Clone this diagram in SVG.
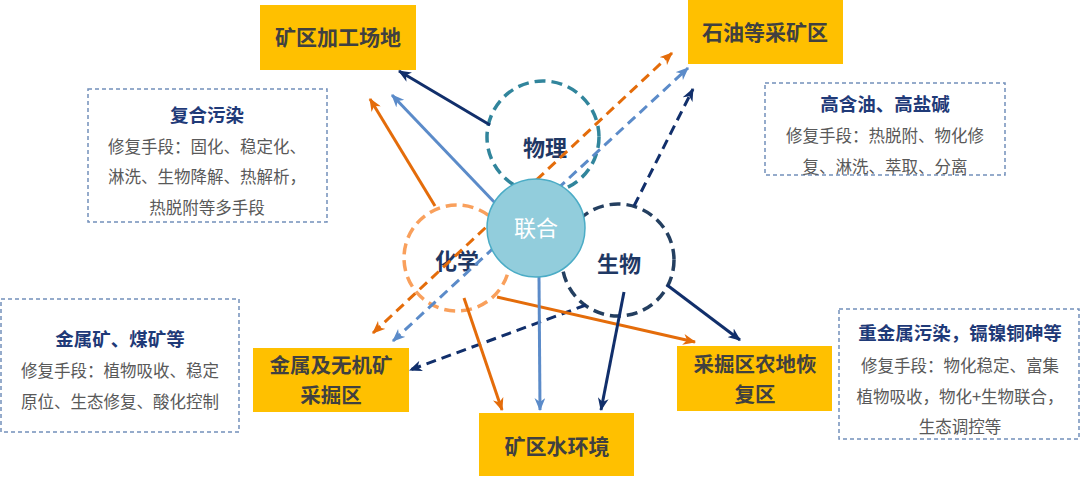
<svg xmlns="http://www.w3.org/2000/svg" width="1080" height="478" viewBox="0 0 1080 478">
<style>
.box{fill:#FFC000;}
.btxt{font-family:"Noto Sans CJK SC","Noto Sans",sans-serif;font-weight:700;font-size:21px;fill:#404040;text-anchor:middle;}
.b2{font-size:20.5px;}
.note{fill:#fff;stroke:#7390BA;stroke-width:1.5;stroke-dasharray:4 3;}
.ntitle{font-family:"Noto Sans CJK SC","Noto Sans",sans-serif;font-weight:700;font-size:18.5px;fill:#1F3A78;text-anchor:middle;}
.nbody{font-family:"Noto Sans CJK SC","Noto Sans",sans-serif;font-size:16.5px;fill:#595959;text-anchor:middle;}
.ctxt{font-family:"Noto Sans CJK SC","Noto Sans",sans-serif;font-weight:700;font-size:22px;fill:#1F3864;text-anchor:middle;}
.a{fill:none;stroke-width:3;}
.d{stroke-dasharray:10 6;}
.nv{stroke:#112F6B;}
.lb{stroke:#5B8BC9;}
.or{stroke:#E46C0A;}
</style>
<defs>
<marker id="mnv" viewBox="0 0 12 10" refX="11" refY="5" markerWidth="13" markerHeight="11" markerUnits="userSpaceOnUse" orient="auto-start-reverse"><path d="M0,0 L12,5 L0,10 L3.5,5 z" fill="#112F6B"/></marker>
<marker id="mlb" viewBox="0 0 12 10" refX="11" refY="5" markerWidth="13" markerHeight="11" markerUnits="userSpaceOnUse" orient="auto-start-reverse"><path d="M0,0 L12,5 L0,10 L3.5,5 z" fill="#5B8BC9"/></marker>
<marker id="mor" viewBox="0 0 12 10" refX="11" refY="5" markerWidth="13" markerHeight="11" markerUnits="userSpaceOnUse" orient="auto-start-reverse"><path d="M0,0 L12,5 L0,10 L3.5,5 z" fill="#E46C0A"/></marker>
</defs>
<rect width="1080" height="478" fill="#fff"/>

<g id="note-composite">
<rect class="note" x="88" y="89" width="239" height="133"/>
<text class="ntitle" x="207" y="122">复合污染</text>
<text class="nbody" x="207" y="153">修复手段：固化、稳定化、</text>
<text class="nbody" x="207" y="183">淋洗、生物降解、热解析，</text>
<text class="nbody" x="207" y="214">热脱附等多手段</text>
</g>
<g id="note-oil">
<rect class="note" x="765" y="83" width="240" height="92"/>
<text class="ntitle" x="885" y="111">高含油、高盐碱</text>
<text class="nbody" x="885" y="142">修复手段：热脱附、物化修</text>
<text class="nbody" x="885" y="173">复、淋洗、萃取、分离</text>
</g>
<g id="note-metal">
<rect class="note" x="1" y="299" width="238" height="133"/>
<text class="ntitle" x="120" y="346">金属矿、煤矿等</text>
<text class="nbody" x="120" y="377">修复手段：植物吸收、稳定</text>
<text class="nbody" x="120" y="408">原位、生态修复、酸化控制</text>
</g>
<g id="note-heavy">
<rect class="note" x="839" y="309" width="240" height="130"/>
<text class="ntitle" x="960" y="340">重金属污染，镉镍铜砷等</text>
<text class="nbody" x="960" y="372">修复手段：物化稳定、富集</text>
<text class="nbody" x="960" y="403">植物吸收，物化+生物联合，</text>
<text class="nbody" x="960" y="433">生态调控等</text>
</g>

<g id="box-processing"><rect class="box" x="260" y="5" width="156" height="65"/><text class="btxt" x="338" y="45">矿区加工场地</text></g>
<g id="box-oil"><rect class="box" x="688" y="0" width="155" height="64"/><text class="btxt" x="765" y="40">石油等采矿区</text></g>
<g id="box-metal"><rect class="box" x="253" y="348" width="156" height="64"/><text class="btxt b2" x="331" y="373">金属及无机矿</text><text class="btxt b2" x="331" y="403">采掘区</text></g>
<g id="box-farm"><rect class="box" x="677" y="346" width="155" height="65"/><text class="btxt b2" x="755" y="372">采掘区农地恢</text><text class="btxt b2" x="755" y="402">复区</text></g>
<g id="box-water"><rect class="box" x="479" y="413" width="155" height="63"/><text class="btxt" x="557" y="454">矿区水环境</text></g>

<g id="circle-physics"><circle cx="543" cy="137" r="56" fill="none" stroke="#31859C" stroke-width="3.5" stroke-dasharray="11 6"/><text class="ctxt" x="545" y="156">物理</text></g>
<g id="circle-chem"><circle cx="457" cy="258" r="53" fill="none" stroke="#F9A05C" stroke-width="3.5" stroke-dasharray="11 6"/><text class="ctxt" x="457" y="269">化学</text></g>
<g id="circle-bio"><circle cx="618" cy="260" r="56" fill="none" stroke="#243F60" stroke-width="3.5" stroke-dasharray="11 6"/><text class="ctxt" x="619" y="272">生物</text></g>

<g id="connectors">
<line class="a nv" x1="490" y1="125" x2="399" y2="71" marker-end="url(#mnv)"/>
<line class="a lb" x1="497" y1="205" x2="392" y2="95" marker-end="url(#mlb)"/>
<line class="a or" x1="435" y1="206" x2="370" y2="99" marker-end="url(#mor)"/>
<line class="a or d" x1="373" y1="333" x2="672" y2="53" marker-start="url(#mor)" marker-end="url(#mor)"/>
<line class="a lb d" x1="393" y1="341" x2="688" y2="68" marker-start="url(#mlb)" marker-end="url(#mlb)"/>
<line class="a nv d" x1="634" y1="206" x2="693" y2="89" marker-end="url(#mnv)"/>
<line class="a nv d" x1="586" y1="305" x2="410" y2="370" marker-end="url(#mnv)"/>
<line class="a nv" x1="667" y1="285" x2="740" y2="340" marker-end="url(#mnv)"/>
<line class="a or" x1="497" y1="297" x2="695" y2="342" marker-end="url(#mor)"/>
<line class="a or" x1="464" y1="298" x2="502" y2="410" marker-end="url(#mor)"/>
<line class="a lb" x1="539" y1="277" x2="540" y2="410" marker-end="url(#mlb)"/>
<line class="a nv" x1="624" y1="292" x2="601" y2="410" marker-end="url(#mnv)"/>
</g>

<g id="circle-joint"><circle cx="536" cy="228" r="49" fill="#92CDDC" stroke="#4BACC6" stroke-width="1.5"/><text x="536" y="236" font-family="Noto Sans CJK SC, Noto Sans, sans-serif" font-size="22" fill="#fff" text-anchor="middle">联合</text></g>
</svg>
